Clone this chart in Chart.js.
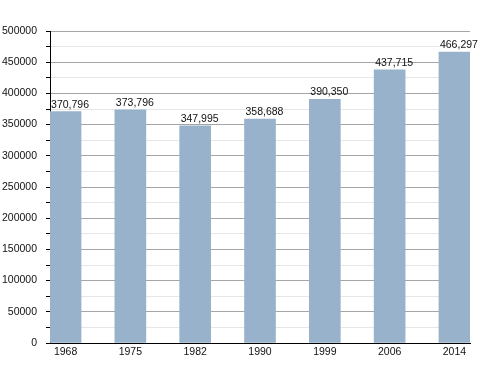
<!DOCTYPE html>
<html>
<head>
<meta charset="utf-8">
<script src="https://cdn.jsdelivr.net/npm/chart.js@4/dist/chart.umd.min.js"></script>
<style>
  html, body { margin: 0; padding: 0; background: #fff; }
  #wrap { width: 500px; height: 373px; position: relative; }
</style>
</head>
<body>
<div id="wrap"><canvas id="c"></canvas></div>
<script>
const years = ['1968', '1975', '1982', '1990', '1999', '2006', '2014'];
const population = [370796, 373796, 347995, 358688, 390350, 437715, 466297];
const yMax = 500000;
const yStep = 25000;

const barColor = '#98b2cc';
const fontFam = '"Liberation Sans", Arial, Helvetica, sans-serif';

Chart.defaults.font.family = fontFam;
Chart.defaults.font.size = 10.5;
Chart.defaults.color = '#111';

function fmtNum(n){ return n.toLocaleString('en-US'); }

// value labels above each bar, starting just right of the bar's left edge
const valueLabels = {
  id: 'valueLabels',
  afterDatasetsDraw(chart){
    const ctx = chart.ctx;
    const meta = chart.getDatasetMeta(0);
    ctx.save();
    ctx.font = '10.5px ' + fontFam;
    ctx.fillStyle = '#111';
    ctx.textAlign = 'left';
    ctx.textBaseline = 'alphabetic';
    meta.data.forEach((bar, i) => {
      ctx.fillText(fmtNum(population[i]), bar.x - bar.width / 2 + 1, bar.y - 4);
    });
    ctx.restore();
  }
};

new Chart(document.getElementById('c'), {
  type: 'bar',
  data: {
    datasets: [{
      data: population.map((v, i) => ({ x: i, y: v })),
      backgroundColor: barColor,
      borderWidth: 0,
      barThickness: 31
    }]
  },
  options: {
    animation: false,
    responsive: true,
    maintainAspectRatio: false,
    layout: { padding: { top: 31, right: 30, bottom: 0, left: 0 } },
    plugins: { legend: { display: false }, tooltip: { enabled: false } },
    scales: {
      x: {
        type: 'linear',
        offset: false,
        min: -0.24,
        max: 6.24,
        afterBuildTicks: s => { s.ticks = years.map((_, i) => ({ value: i })); },
        afterFit: s => { s.height = 30; },
        ticks: { callback: v => years[v], padding: 3, maxRotation: 0, autoSkip: false, color: '#111' },
        grid: { display: false, drawTicks: false, offset: false },
        border: { color: '#000', width: 1 }
      },
      y: {
        min: 0,
        max: yMax,
        afterFit: s => { s.width = 50; },
        ticks: {
          stepSize: yStep,
          autoSkip: false,
          padding: 9,
          color: '#111',
          callback: v => (v % 50000 === 0 ? String(v) : '')
        },
        grid: {
          color: c => (c.tick && c.tick.value % 50000 === 0 ? '#a6a6a6' : '#e6e6e6'),
          tickColor: '#000',
          tickLength: 4,
          drawTicks: true
        },
        border: { color: '#000', width: 1 }
      }
    }
  },
  plugins: [valueLabels]
});
</script>
</body>
</html>
